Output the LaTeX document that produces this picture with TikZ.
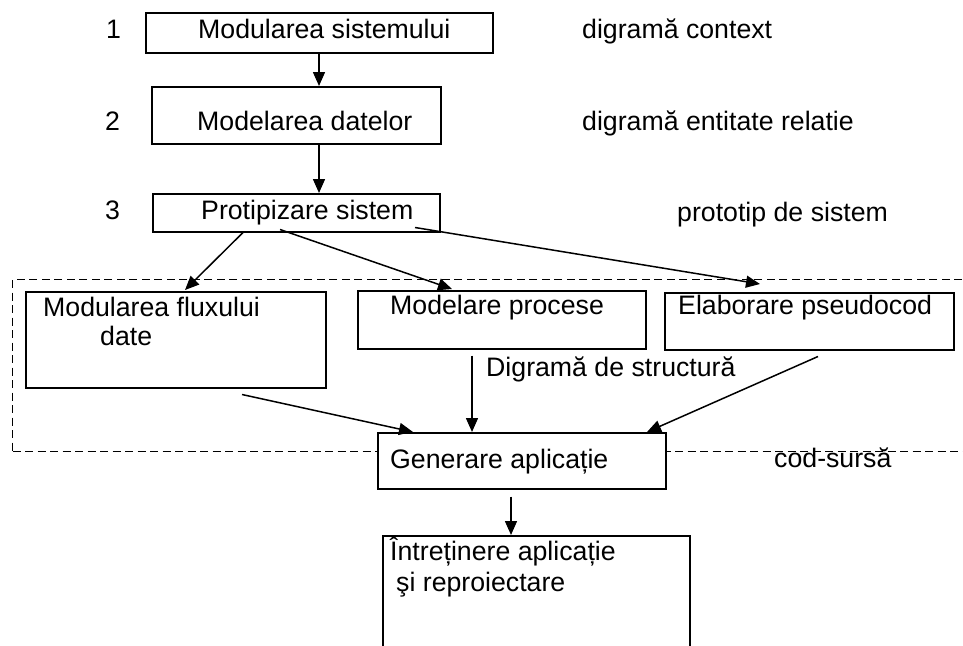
\documentclass[tikz,border=0pt]{standalone}
\usepackage{fontspec}
\setmainfont{Liberation Sans}
\usetikzlibrary{calc,arrows.meta}
\begin{document}
\begin{tikzpicture}[x=1pt,y=-1pt,
  box/.style={draw, line width=1.5pt, fill=white, rectangle, inner sep=0pt, anchor=north west},
  zonebox/.style={draw, line width=1.4pt, dash pattern=on 8pt off 4.5pt, rectangle, inner sep=0pt, anchor=north west},
  lbl/.style={anchor=base west, inner sep=0pt, font=\fontsize{26.7}{31}\selectfont},
  conn/.style={line width=1.5pt, -{Triangle[length=14pt,width=12pt]}}]
\useasboundingbox (0,0) rectangle (963,645);
\clip (0,0) rectangle (963,645);
\fill[white] (0,0) rectangle (963,645);
% dashed zone
\node[zonebox, minimum width=970pt, minimum height=172pt] (zone) at (12,279) {};
% boxes
\node[box, minimum width=347pt, minimum height=40pt] (b1) at (145,12) {};
\node[box, minimum width=289pt, minimum height=57pt] (b2) at (151,86) {};
\node[box, minimum width=287pt, minimum height=38pt] (b3) at (152,193) {};
\node[box, minimum width=300pt, minimum height=96pt] (bA) at (25,291) {};
\node[box, minimum width=288pt, minimum height=58pt] (bB) at (357,290) {};
\node[box, minimum width=289pt, minimum height=57pt] (bC) at (664,292) {};
\node[box, minimum width=288pt, minimum height=56pt] (bG) at (377,432) {};
\node[box, minimum width=307pt, minimum height=140pt] (bI) at (382,535) {};
% texts
\node[lbl] (n1) at (106,38) {1};
\node[lbl] (n2) at (105,130) {2};
\node[lbl] (n3) at (105,219) {3};
\node[lbl] (tb1) at (198,38) {Modularea sistemului};
\node[lbl] (tb2) at (197,130) {Modelarea datelor};
\node[lbl] (tb3) at (201,219) {Protipizare sistem};
\node[lbl] (r1) at (582,38) {digramă context};
\node[lbl] (r2) at (582,130) {digramă entitate relatie};
\node[lbl] (r3) at (677,221) {prototip de sistem};
\node[lbl] (tA1) at (43,316) {Modularea fluxului};
\node[lbl] (tA2) at (100,345) {date};
\node[lbl] (tB) at (390,314) {Modelare procese};
\node[lbl] (tC) at (678,314) {Elaborare pseudocod};
\node[lbl] (tD) at (486,376) {Digramă de structură};
\node[lbl] (tG) at (390,468) {Generare aplicație};
\node[lbl] (tS) at (774,467) {cod-sursă};
\node[lbl] (tI1) at (390,560) {Întreținere aplicație};
\node[lbl] (tI2) at (396,591) {şi reproiectare};
% connectors
\draw[conn] ($(b1.south west)+(174,0)$) -- ($(b2.north west)+(168,0)$);
\draw[conn] ($(b2.south west)+(168,0)$) -- ($(b3.north west)+(167,0)$);
\draw[conn] ($(b3.south west)+(91,0)$) -- ($(bA.north west)+(160,-1)$);
\draw[conn] ($(b3.south west)+(128,-3)$) -- ($(bB.north west)+(95,-1)$);
\draw[conn] ($(b3.south west)+(263,-5)$) -- ($(bC.north west)+(96,-8)$);
\draw[conn] ($(bA.south west)+(217,6)$) -- ($(bG.north west)+(36,0)$);
\draw[conn] ($(bB.south west)+(115,6)$) -- ($(bG.north west)+(95,0)$);
\draw[conn] ($(bC.south west)+(154,6)$) -- ($(bG.north west)+(270,0)$);
\draw[conn] ($(bG.south west)+(134,7)$) -- ($(bI.north west)+(129,0)$);
\end{tikzpicture}
\end{document}
